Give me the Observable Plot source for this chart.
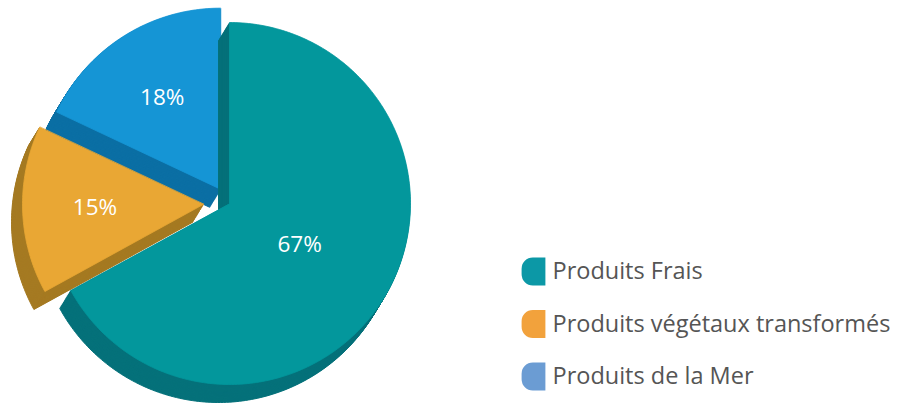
<!DOCTYPE html>
<html><head><meta charset="utf-8">
<script src="https://cdn.jsdelivr.net/npm/d3@7"></script>
<script src="https://cdn.jsdelivr.net/npm/@observablehq/plot@0.6"></script>
<style>body{margin:0;background:#fff}</style>
</head><body><div id="chart"></div>
<script>
// ---- data ----
const categories = ["Produits Frais", "Produits végétaux transformés", "Produits de la Mer"];
const values = [67, 15, 18];
const valueLabels = ["67%", "15%", "18%"];
const faceColors = ["#03979c", "#e9a734", "#1595d5"];
const sideColors = ["#05717a", "#a57a22", "#0b6fa4"];
const legendColors = ["#0c98a6", "#f2a23c", "#6b9cd3"];

// ---- layout ----
const explode = [0, 26, 17];
const labelRadius = [0.45, 0.6, 0.6];
const drawOrder = [2, 0, 1];
const W = 899, H = 409;
const cx = 229, cy = 203, R = 181;
const depth = [-11, 18], steps = 20;

const arcs = d3.pie().sort(null).startAngle(0).endAngle(2 * Math.PI)(values);

function polygon(i, ox, oy, key) {
  const a = arcs[i];
  const mid = (a.startAngle + a.endAngle) / 2;
  const ex = explode[i] * Math.sin(mid), ey = -explode[i] * Math.cos(mid);
  const x0 = cx + ex + ox, y0 = cy + ey + oy;
  const pts = [{key, x: x0, y: y0}];
  const n = Math.max(8, Math.ceil((a.endAngle - a.startAngle) / (Math.PI / 180)));
  for (let k = 0; k <= n; k++) {
    const t = a.startAngle + (a.endAngle - a.startAngle) * k / n;
    pts.push({key, x: x0 + R * Math.sin(t), y: y0 - R * Math.cos(t)});
  }
  return pts;
}

const marks = [];
for (const i of drawOrder) {
  const side = [];
  for (let s = steps; s >= 1; s--) {
    side.push(...polygon(i, depth[0] * s / steps, depth[1] * s / steps, `s${i}-${s}`));
  }
  marks.push(Plot.line(side, {x: "x", y: "y", z: "key", fill: sideColors[i], stroke: sideColors[i], strokeWidth: 1, curve: "linear-closed"}));
  marks.push(Plot.line(polygon(i, 0, 0, `f${i}`), {x: "x", y: "y", z: "key", fill: faceColors[i], stroke: faceColors[i], strokeWidth: 0.8, curve: "linear-closed"}));
}

// slice labels
const labelData = arcs.map((a, i) => {
  const mid = (a.startAngle + a.endAngle) / 2;
  const rr = explode[i] + R * labelRadius[i];
  return {x: cx + rr * Math.sin(mid), y: cy - rr * Math.cos(mid), text: valueLabels[i]};
});
marks.push(Plot.text(labelData, {x: "x", y: "y", text: "text", fill: "white", fontSize: 22.5, fontFamily: "Open Sans"}));

// legend
const legendSymbol = {
  draw(context, size) {
    const s = Math.sqrt(size / Math.PI);
    const w = s * 1.7, h = s * 2, rr = s * 0.8;
    context.moveTo(w / 2, -h / 2);
    context.lineTo(w / 2, h / 2);
    context.lineTo(-w / 2 + rr, h / 2);
    context.arcTo(-w / 2, h / 2, -w / 2, h / 2 - rr, rr);
    context.lineTo(-w / 2, -h / 2 + rr);
    context.arcTo(-w / 2, -h / 2, -w / 2 + rr, -h / 2, rr);
    context.closePath();
  }
};
const legendData = categories.map((c, i) => ({name: c, i, y: 271 + i * 52.5}));
marks.push(Plot.dot(legendData, {x: () => 533, y: "y", r: 14, symbol: legendSymbol, fill: (d) => legendColors[d.i], stroke: null}));
marks.push(Plot.text(legendData, {x: () => 552, y: "y", text: "name", textAnchor: "start", fill: "#555", fontSize: 23.5, fontFamily: "Open Sans"}));

const chart = Plot.plot({
  width: W, height: H, margin: 0,
  x: {domain: [0, W], range: [0, W], axis: null},
  y: {domain: [0, H], range: [0, H], axis: null},
  style: {background: "#fff", fontFamily: "Open Sans"},
  marks
});
document.getElementById("chart").appendChild(chart);
</script>
</body></html>
